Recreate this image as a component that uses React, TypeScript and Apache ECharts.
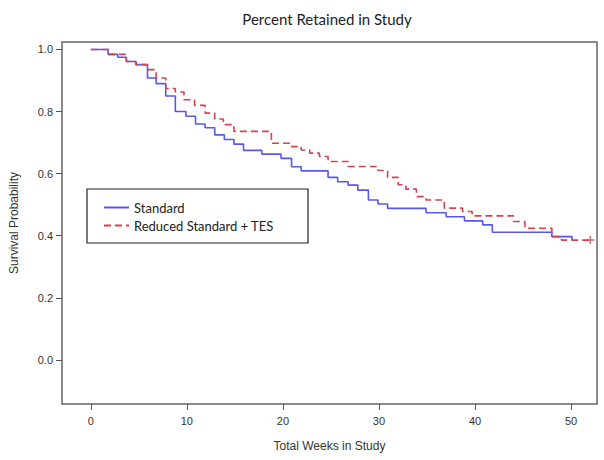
import React, { useEffect, useRef } from "react";
import * as echarts from "echarts";

const titleText = "Percent Retained in Study";
const xAxisName = "Total Weeks in Study";
const yAxisName = "Survival Probability";
const seriesNames = ["Standard", "Reduced Standard + TES"];

const xTicks = [0, 10, 20, 30, 40, 50];
const yTicks = [0, 0.2, 0.4, 0.6, 0.8, 1.0];

const weeksStd = [0, 1.8, 2.8, 3.7, 4.7, 5.9, 6.8, 7.8, 8.8, 9.9, 10.9, 11.9, 12.9, 13.9, 14.9, 15.9, 17.8, 19.8, 20.9, 21.9, 24.7, 25.7, 26.8, 27.8, 28.9, 29.9, 30.9, 34.9, 37.0, 38.9, 40.8, 41.8, 48.0, 50.1];
const survStd = [1.0, 0.984, 0.975, 0.961, 0.951, 0.908, 0.89, 0.85, 0.8, 0.785, 0.76, 0.748, 0.725, 0.71, 0.695, 0.675, 0.663, 0.649, 0.622, 0.609, 0.588, 0.574, 0.563, 0.547, 0.515, 0.502, 0.488, 0.474, 0.461, 0.448, 0.435, 0.411, 0.397, 0.386];

const weeksTes = [0, 1.9, 3.7, 4.7, 5.9, 6.8, 7.8, 8.8, 9.7, 10.8, 11.9, 12.9, 13.8, 14.9, 18.8, 20.9, 21.9, 22.8, 23.8, 24.7, 26.8, 29.9, 30.9, 32.0, 32.8, 33.9, 34.9, 36.8, 38.7, 39.7, 44.0, 45.2, 48.0, 49.0, 52.3];
const survTes = [1.0, 0.984, 0.961, 0.951, 0.935, 0.908, 0.874, 0.863, 0.838, 0.82, 0.795, 0.776, 0.758, 0.736, 0.698, 0.687, 0.676, 0.666, 0.655, 0.639, 0.623, 0.61, 0.588, 0.564, 0.55, 0.526, 0.515, 0.489, 0.478, 0.464, 0.446, 0.424, 0.397, 0.386, 0.386];

const censorWeeks = [52];
const censorSurv = [0.386];

const BLUE = "#5757ee";
const RED = "#d4434f";

export default function App() {
  const ref = useRef<HTMLDivElement>(null);
  useEffect(() => {
    if (!ref.current) return;
    const chart = echarts.init(ref.current, null, { renderer: "svg" });
    const stdData = weeksStd.map((t, i) => [t, survStd[i]]);
    const tesData = weeksTes.map((t, i) => [t, survTes[i]]);
    const censorData = censorWeeks.map((t, i) => [t, censorSurv[i]]);
    chart.setOption({
      animation: false,
      backgroundColor: "#ffffff",
      title: {
        text: titleText,
        left: 322,
        top: 6,
        textAlign: "center",
        textStyle: { fontFamily: "Lato", fontSize: 15, fontWeight: "normal", color: "#222" },
      },
      grid: {
        left: 59,
        right: 7,
        top: 42,
        bottom: 56,
        show: true,
        borderColor: "#666",
        borderWidth: 1.5,
        backgroundColor: "#ffffff",
      },
      xAxis: {
        type: "value",
        position: "bottom",
        min: -3,
        max: 52.7,
        name: xAxisName,
        nameLocation: "middle",
        nameGap: 36,
        nameTextStyle: { fontFamily: "Liberation Sans", fontSize: 12, color: "#333" },
        axisLine: { show: false, onZero: false },
        splitLine: { show: false },
        axisTick: { show: true, length: 6, lineStyle: { color: "#555" }, customValues: xTicks },
        axisLabel: {
          customValues: xTicks,
          margin: 11,
          fontFamily: "Liberation Sans",
          fontSize: 11,
          color: "#333",
          formatter: (v: number) => String(Math.round(v)),
        },
      },
      yAxis: {
        type: "value",
        position: "left",
        min: -0.142,
        max: 1.024,
        name: yAxisName,
        nameLocation: "middle",
        nameGap: 42,
        nameTextStyle: { fontFamily: "Liberation Sans", fontSize: 12, color: "#333" },
        axisLine: { show: false, onZero: false },
        splitLine: { show: false },
        axisTick: { show: true, length: 6, lineStyle: { color: "#555" }, customValues: yTicks },
        axisLabel: {
          customValues: yTicks,
          margin: 9,
          fontFamily: "Liberation Sans",
          fontSize: 11,
          color: "#333",
          formatter: (v: number) => v.toFixed(1),
        },
      },
      legend: {
        data: seriesNames,
        orient: "vertical",
        left: 103,
        top: 201,
        itemWidth: 25,
        itemHeight: 14,
        itemGap: 5,
        padding: 0,
        itemStyle: { opacity: 0 },
        textStyle: { fontFamily: "Lato", fontSize: 13, color: "#222" },
        z: 10,
      },
      graphic: [
        {
          type: "rect",
          shape: { x: 87, y: 189, width: 221, height: 54 },
          style: { fill: "#ffffff", stroke: "#222", lineWidth: 1.2 },
          z: 5,
        },
      ],
      series: [
        {
          name: seriesNames[0],
          type: "line",
          step: "end",
          data: stdData,
          symbol: "none",
          lineStyle: { color: BLUE, width: 1.6 },
          itemStyle: { color: BLUE },
          z: 2,
        },
        {
          name: seriesNames[1],
          type: "line",
          step: "end",
          data: tesData,
          symbol: "none",
          lineStyle: { color: RED, width: 1.6, type: [7, 4] },
          itemStyle: { color: RED },
          z: 3,
        },
        {
          name: "censored",
          type: "scatter",
          data: censorData,
          symbol: "path://M0,5L10,5M5,0L5,10",
          symbolSize: 8,
          itemStyle: { color: "rgba(0,0,0,0)", borderColor: RED, borderWidth: 1.5 },
          z: 4,
        },
      ],
    });
    return () => chart.dispose();
  }, []);
  return (
    <div
      ref={ref}
      style={{ position: "fixed", left: 0, top: 0, width: 604, height: 460 }}
    />
  );
}
